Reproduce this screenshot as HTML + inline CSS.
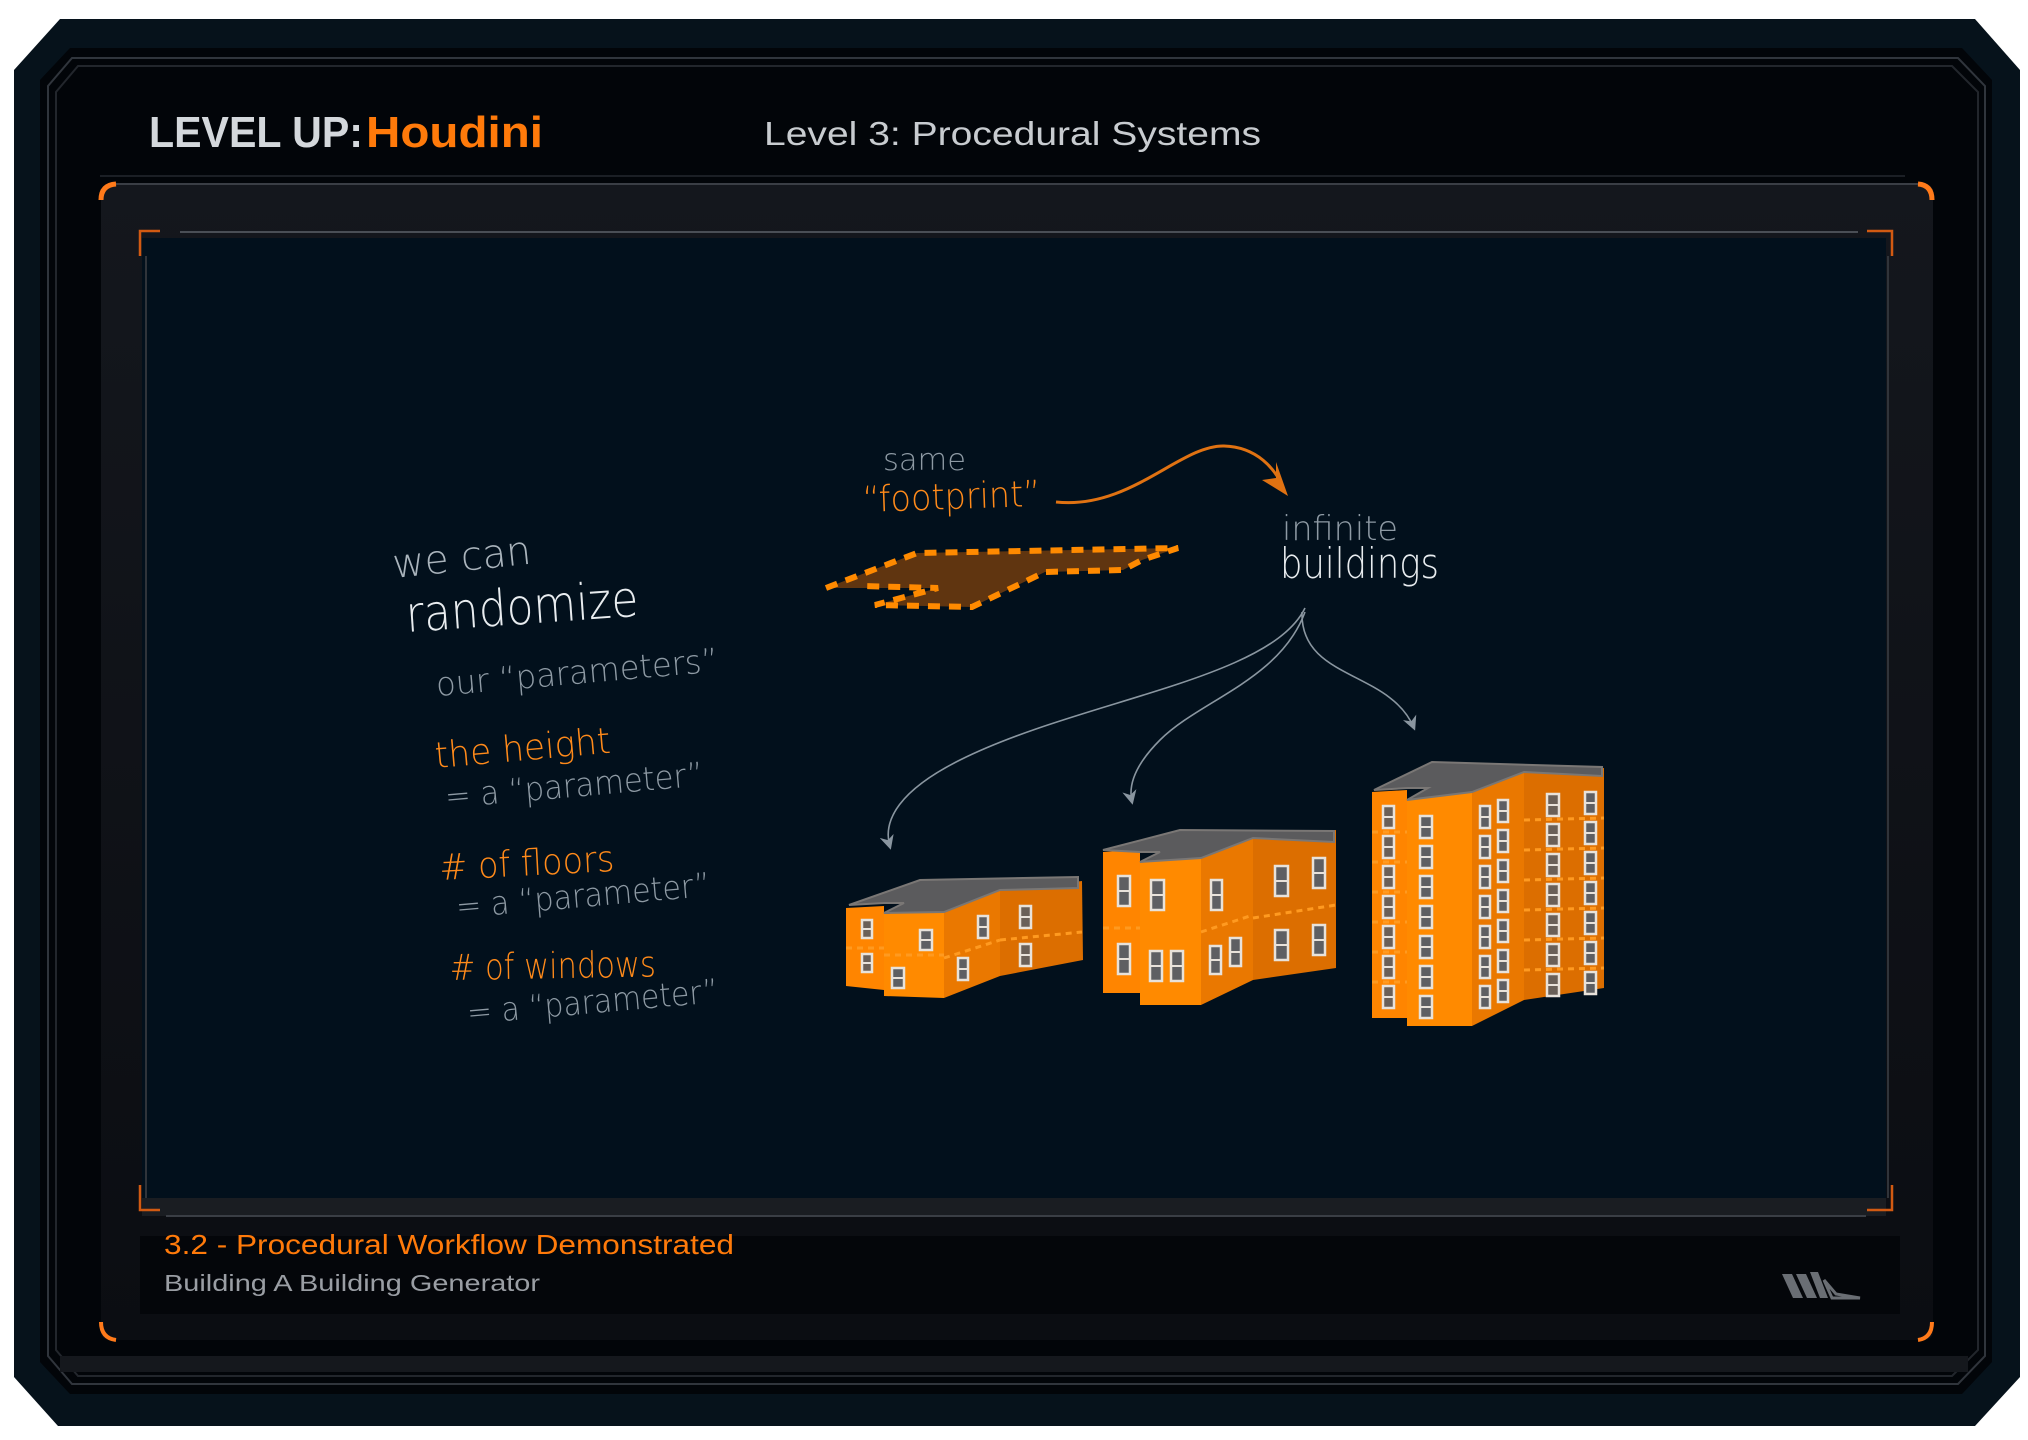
<!DOCTYPE html>
<html><head><meta charset="utf-8">
<style>
html,body{margin:0;padding:0;background:#fff;}
svg{display:block;}
.hw{font-family:"DejaVu Sans","Liberation Sans",sans-serif;font-weight:200;}
</style></head>
<body>
<svg id="s" width="2028" height="1440" viewBox="0 0 2028 1440" xmlns="http://www.w3.org/2000/svg">
<defs>
<linearGradient id="panel" x1="0" y1="0" x2="0" y2="1">
<stop offset="0" stop-color="#14171d"/><stop offset="1" stop-color="#0b0d12"/>
</linearGradient>
<linearGradient id="oline" x1="0" y1="0" x2="1" y2="0">
<stop offset="0" stop-color="#a04a10"/><stop offset="0.5" stop-color="#ff7a1a"/><stop offset="1" stop-color="#a04a10"/>
</linearGradient>
<marker id="ga" viewBox="0 0 10 10" refX="8" refY="5" markerWidth="9" markerHeight="9" orient="auto-start-reverse">
<path d="M0,0 L10,5 L0,10 L3,5 Z" fill="#8a96a0"/>
</marker>
</defs>
<polygon points="60,19 1975,19 2020,70 2020,1377 1975,1426 58,1426 14,1377 14,70" fill="#06121b"/>
<polygon points="70,48 1962,48 1992,80 1992,1362 1962,1394 70,1394 40,1362 40,80" fill="#020509"/>
<polygon points="72,58 1958,58 1985,86 1985,1356 1958,1384 72,1384 48,1356 48,86" fill="none" stroke="#30353c" stroke-width="2"/>
<polygon points="78,66 1952,66 1978,92 1978,1350 1952,1376 78,1376 56,1350 56,92" fill="none" stroke="#22262c" stroke-width="2"/>
<rect x="60" y="1356" width="1908" height="16" fill="#15181d"/>
<text x="149" y="147" font-family="Liberation Sans, sans-serif" font-weight="bold" font-size="44" fill="#d4d8dc" textLength="214" lengthAdjust="spacingAndGlyphs">LEVEL UP:</text>
<text x="366" y="147" font-family="Liberation Sans, sans-serif" font-weight="bold" font-size="44" fill="#ff7a0a" textLength="177" lengthAdjust="spacingAndGlyphs">Houdini</text>
<text x="764" y="145" font-family="Liberation Sans, sans-serif" font-size="33" fill="#c8ccd0" textLength="497" lengthAdjust="spacingAndGlyphs">Level 3: Procedural Systems</text>
<line x1="100" y1="176" x2="1905" y2="176" stroke="#1b1f25" stroke-width="2"/>
<rect x="101" y="184" width="1832" height="1156" rx="8" fill="url(#panel)"/>
<line x1="110" y1="184" x2="1920" y2="184" stroke="#3a3e45" stroke-width="2"/>
<path d="M101,200 Q101,185 116,184" stroke="#ff7a1a" stroke-width="5" fill="none"/>
<path d="M1918,184 Q1932,185 1932,200" stroke="#ff7a1a" stroke-width="5" fill="none"/>
<path d="M101,1322 Q101,1338 116,1340" stroke="#ff7a1a" stroke-width="4" fill="none"/>
<path d="M1932,1322 Q1932,1338 1918,1340" stroke="#ff7a1a" stroke-width="4" fill="none"/>
<line x1="112" y1="1339" x2="1922" y2="1339" stroke="url(#oline)" stroke-width="3"/>
<line x1="180" y1="232" x2="1858" y2="232" stroke="#4a4e55" stroke-width="2"/>
<rect x="142" y="238" width="1744" height="966" fill="#02101c"/>
<rect x="142" y="1198" width="1744" height="18" fill="#1a1d22"/>
<line x1="166" y1="1216" x2="1866" y2="1216" stroke="#3a3e45" stroke-width="2"/>
<path d="M140,256 V231 H160" stroke="#d25a12" stroke-width="2.5" fill="none"/>
<path d="M1867,231 H1892 V256" stroke="#d25a12" stroke-width="2.5" fill="none"/>
<path d="M140,1185 V1210 H160" stroke="#d25a12" stroke-width="2.5" fill="none"/>
<path d="M1892,1185 V1210 H1867" stroke="#d25a12" stroke-width="2.5" fill="none"/>
<line x1="146" y1="256" x2="146" y2="1198" stroke="#30343a" stroke-width="2"/>
<line x1="1888" y1="256" x2="1888" y2="1198" stroke="#30343a" stroke-width="2"/>
<rect x="140" y="1236" width="1760" height="78" fill="#04060a"/>
<text x="164" y="1254" font-family="Liberation Sans, sans-serif" font-size="28" fill="#ff7a0a" textLength="570" lengthAdjust="spacingAndGlyphs">3.2 - Procedural Workflow Demonstrated</text>
<text x="164" y="1291" font-family="Liberation Sans, sans-serif" font-size="23" fill="#9a9ea4" textLength="376" lengthAdjust="spacingAndGlyphs">Building A Building Generator</text>
<g fill="#6a6e74">
<polygon points="1782,1274 1792,1274 1803,1298 1793,1298"/>
<polygon points="1796,1274 1806,1274 1817,1298 1807,1298"/>
<polygon points="1810,1272 1818,1272 1828,1298 1820,1298"/>
<path d="M1824,1280 L1836,1294 L1860,1298 L1832,1298 Z" fill="none" stroke="#6a6e74" stroke-width="3"/>
</g>
<g class="hw" lengthAdjust="spacingAndGlyphs">
<text x="394" y="578" font-size="40" fill="#aab4bc" transform="rotate(-6 394 578)" textLength="139" lengthAdjust="spacingAndGlyphs">we can</text>
<text x="407" y="632" font-size="50" fill="#e8ecef" transform="rotate(-4 407 632)" textLength="233" lengthAdjust="spacingAndGlyphs">randomize</text>
<text x="437" y="696" font-size="33" fill="#8e9aa4" transform="rotate(-5 437 696)" textLength="283" lengthAdjust="spacingAndGlyphs">our “parameters”</text>
<text x="436" y="768" font-size="36" fill="#ff8a1a" transform="rotate(-5 436 768)" textLength="176" lengthAdjust="spacingAndGlyphs">the height</text>
<text x="446" y="808" font-size="33" fill="#8e9aa4" transform="rotate(-5 446 808)" textLength="259" lengthAdjust="spacingAndGlyphs">= a “parameter”</text>
<text x="440" y="880" font-size="36" fill="#ff8a1a" transform="rotate(-3 440 880)" textLength="175" lengthAdjust="spacingAndGlyphs">&#35; of floors</text>
<text x="457" y="918" font-size="33" fill="#8e9aa4" transform="rotate(-5 457 918)" textLength="255" lengthAdjust="spacingAndGlyphs">= a “parameter”</text>
<text x="450" y="980" font-size="36" fill="#ff8a1a" transform="rotate(-1 450 980)" textLength="206" lengthAdjust="spacingAndGlyphs">&#35; of windows</text>
<text x="468" y="1024" font-size="33" fill="#8e9aa4" transform="rotate(-5 468 1024)" textLength="252" lengthAdjust="spacingAndGlyphs">= a “parameter”</text>
<text x="883" y="470" font-size="30" fill="#8e9aa4" textLength="83" lengthAdjust="spacingAndGlyphs">same</text>
<text x="863" y="512" font-size="36" fill="#ff8a1a" transform="rotate(-2 863 512)" textLength="178" lengthAdjust="spacingAndGlyphs">“footprint”</text>
<text x="1282" y="540" font-size="34" fill="#8e9aa4" textLength="116" lengthAdjust="spacingAndGlyphs">infinite</text>
<text x="1280" y="578" font-size="42" fill="#e8ecef" textLength="159" lengthAdjust="spacingAndGlyphs">buildings</text>
</g>
<path d="M1056,502 C1130,510 1180,445 1224,446 C1258,447 1275,470 1282,485" stroke="#e07212" stroke-width="3" fill="none"/>
<polygon points="1288,496 1262,480 1276,478 1276,462" fill="#e07212"/>
<polygon points="826,588 917,553 1178,548 1142,560 1123,570 1045,572 972,607 875,605 938,588" fill="#603510"/>
<polyline points="826,588 917,553 1178,548 1142,560 1123,570 1045,572 972,607 875,605 938,588 860,586" fill="none" stroke="#ff8a00" stroke-width="6" stroke-dasharray="12,9"/>
<g stroke="#8a96a0" stroke-width="1.6" fill="none" marker-end="url(#ga)">
<path d="M1305,608 C1270,680 1080,700 960,760 C900,790 882,820 890,847"/>
<path d="M1305,612 C1280,680 1200,700 1160,740 C1135,765 1128,785 1132,802"/>
<path d="M1302,612 C1300,680 1390,670 1414,728"/>
</g>
<g id="bld"></g>
</svg>
<script>
var g=document.getElementById('bld'),NS='http://www.w3.org/2000/svg';
function P(pts,fill,stroke){var e=document.createElementNS(NS,'polygon');e.setAttribute('points',pts);e.setAttribute('fill',fill);if(stroke){e.setAttribute('stroke',stroke);e.setAttribute('stroke-width','2');}g.appendChild(e);}
function W(x,y,w,h,c){var e=document.createElementNS(NS,'rect');e.setAttribute('x',x);e.setAttribute('y',y);e.setAttribute('width',w);e.setAttribute('height',h);e.setAttribute('fill',c||'#5e5f62');e.setAttribute('stroke','#e8e2da');e.setAttribute('stroke-width','2.5');g.appendChild(e);
var l=document.createElementNS(NS,'line');l.setAttribute('x1',x);l.setAttribute('x2',x+w);l.setAttribute('y1',y+h/2);l.setAttribute('y2',y+h/2);l.setAttribute('stroke','#e8e2da');l.setAttribute('stroke-width','2');g.appendChild(l);}
function D(x1,y1,x2,y2){var l=document.createElementNS(NS,'line');l.setAttribute('x1',x1);l.setAttribute('x2',x2);l.setAttribute('y1',y1);l.setAttribute('y2',y2);l.setAttribute('stroke','#ff9a20');l.setAttribute('stroke-width','3');l.setAttribute('stroke-dasharray','6,5');g.appendChild(l);}
P('846,908 884,906 884,990 846,986','#ff8500');
P('884,914 944,910 944,998 884,996','#ff8a00');
P('944,910 1000,890 1000,976 944,998','#ea7800');
P('1000,890 1082,881 1083,960 1000,976','#dc6e00');
P('849,905 920,880 1078,877 1078,888 1000,890 944,912 884,913 904,903 884,903','#5b5b5d','#7a7775');
D(846,948,884,948);D(944,958,1000,940);D(1000,940,1082,932);D(884,955,944,955);
W(862,920,10,18,'#6a6058');W(862,954,10,18,'#6a6058');W(920,930,12,20);W(892,968,12,20);W(978,916,10,22);W(1020,906,11,22,'#6a6058');W(1020,944,11,22,'#6a6058');W(958,958,10,22);
P('1103,852 1140,850 1140,993 1103,993','#ff8500');
P('1140,862 1201,858 1201,1005 1140,1005','#ff8a00');
P('1201,858 1253,838 1253,980 1201,1005','#ea7800');
P('1253,838 1336,830 1336,968 1253,980','#dc6e00');
P('1103,850 1180,830 1334,831 1334,842 1253,838 1201,858 1140,862 1160,852 1140,852','#5b5b5d','#7a7775');
D(1103,928,1140,928);D(1201,932,1253,915);D(1253,918,1336,905);
W(1118,876,12,30);W(1151,880,13,30);W(1211,880,11,30);W(1275,866,13,30);W(1313,858,12,30);W(1118,944,12,30);W(1150,951,12,30);W(1171,951,12,30);W(1210,946,11,28);W(1230,938,11,28);W(1275,930,13,30);W(1313,925,12,30);
P('1372,792 1407,790 1407,1018 1372,1018','#ff8500');
P('1407,800 1472,792 1472,1026 1407,1026','#ff8a00');
P('1472,792 1524,772 1524,1000 1472,1026','#ea7800');
P('1524,772 1604,768 1604,988 1524,1000','#dc6e00');
P('1374,790 1432,762 1602,767 1602,776 1524,772 1472,792 1407,800 1428,788 1408,788','#5b5b5d','#7a7775');
for(var i=0;i<7;i++){var y=806+i*30;
W(1383,y,11,22,'#6a6058');W(1420,y+10,12,22);
W(1480,y,10,22);W(1498,y-6,10,22);
W(1547,y-12,12,22,'#6a6058');W(1585,y-14,11,22);
if(i>0){D(1372,y-4,1407,y-4);D(1524,y-16,1604,y-18);}}
</script>
</body></html>
